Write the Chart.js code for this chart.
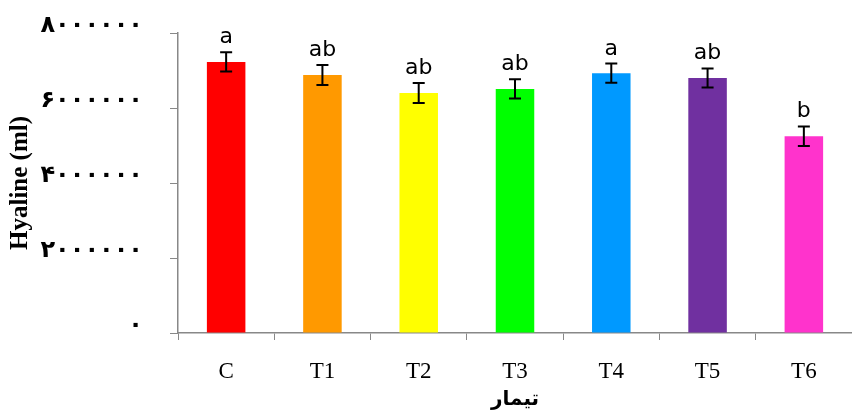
<!DOCTYPE html>
<html>
<head>
<meta charset="utf-8">
<script src="https://cdn.jsdelivr.net/npm/chart.js@4.4.0/dist/chart.umd.min.js"></script>
<style>
  html, body { margin: 0; padding: 0; background: #fff; }
  #wrap { width: 852px; height: 412px; }
</style>
</head>
<body>
<div id="wrap"><canvas id="hyalineChart" width="852" height="412"></canvas></div>
<script>
// داده ها
var tratamentos = ['C', 'T1', 'T2', 'T3', 'T4', 'T5', 'T6'];
var valores = [7230000, 6880000, 6400000, 6510000, 6930000, 6800000, 5250000];
var erros = [255000, 265000, 265000, 255000, 255000, 255000, 260000];
var letras = ['a', 'ab', 'ab', 'ab', 'a', 'ab', 'b'];
var cores = ['#FF0000', '#FF9900', '#FFFF00', '#00FF00', '#0099FF', '#7030A0', '#FF33CC'];
var ticksY = [0, 2000000, 4000000, 6000000, 8000000];

var digitosFa = ['۰', '۱', '۲', '۳', '۴', '۵', '۶', '۷', '۸', '۹'];
function paraPersa(n) {
    return String(n).replace(/[0-9]/g, function (d) { return digitosFa[+d]; });
}

// barras de erro + letras
var errosPlugin = {
    id: 'errosPlugin',
    afterDatasetsDraw: function (chart) {
        var ctx = chart.ctx;
        var x = chart.scales.x;
        var y = chart.scales.y;
        ctx.save();
        ctx.strokeStyle = '#000';
        ctx.lineWidth = 2;
        for (var i = 0; i < valores.length; i++) {
            var px = x.getPixelForValue(i);
            var topo = y.getPixelForValue(valores[i] + erros[i]);
            var base = y.getPixelForValue(valores[i] - erros[i]);
            ctx.beginPath();
            ctx.moveTo(px, topo); ctx.lineTo(px, base);
            ctx.moveTo(px - 6, topo); ctx.lineTo(px + 6, topo);
            ctx.moveTo(px - 6, base); ctx.lineTo(px + 6, base);
            ctx.stroke();

            ctx.fillStyle = '#000';
            ctx.font = '22px "DejaVu Sans", sans-serif';
            ctx.textAlign = 'center';
            ctx.textBaseline = 'alphabetic';
            ctx.fillText(letras[i], px, topo - 9);
        }
        ctx.restore();
    }
};

var ctx = document.getElementById('hyalineChart').getContext('2d');
var hyalineChart = new Chart(ctx, {
    type: 'bar',
    data: {
        labels: tratamentos,
        datasets: [{
            data: valores,
            backgroundColor: cores,
            borderWidth: 0,
            barPercentage: 0.4,
            categoryPercentage: 1
        }]
    },
    plugins: [errosPlugin],
    options: {
        responsive: false,
        animation: false,
        layout: { padding: 0 },
        plugins: {
            legend: { display: false },
            tooltip: { enabled: false }
        },
        scales: {
            x: {
                grid: {
                    display: true,
                    drawOnChartArea: false,
                    drawTicks: true,
                    tickLength: 7,
                    color: '#888'
                },
                border: { color: '#888', width: 1.5 },
                ticks: {
                    color: '#000',
                    padding: 18,
                    font: { family: '"Liberation Serif", serif', size: 23 }
                },
                title: {
                    display: true,
                    text: 'تیمار',
                    color: '#000',
                    padding: { top: 0, bottom: 0 },
                    font: { family: '"DejaVu Sans", sans-serif', size: 20, weight: 'bold' }
                },
                afterFit: function (scale) { scale.height = 79; }
            },
            y: {
                min: 0,
                max: 8000000,
                afterBuildTicks: function (scale) {
                    scale.ticks = ticksY.map(function (v) { return { value: v }; });
                },
                grid: {
                    display: true,
                    drawOnChartArea: false,
                    drawTicks: true,
                    tickLength: 8,
                    color: '#888'
                },
                border: { color: '#888', width: 1.5 },
                ticks: {
                    color: '#000',
                    padding: 27,
                    labelOffset: -7,
                    font: { family: '"DejaVu Sans", sans-serif', size: 24, weight: 'bold', lineHeight: 1 },
                    callback: function (value) { return paraPersa(value); }
                },
                title: {
                    display: true,
                    text: 'Hyaline (ml)',
                    color: '#000',
                    padding: { top: 6, bottom: 0 },
                    font: { family: '"Liberation Serif", serif', size: 25, weight: 'bold' }
                },
                afterFit: function (scale) {
                    scale.width = 178;
                    scale.paddingTop = 33;
                }
            }
        }
    }
});
</script>
</body>
</html>
